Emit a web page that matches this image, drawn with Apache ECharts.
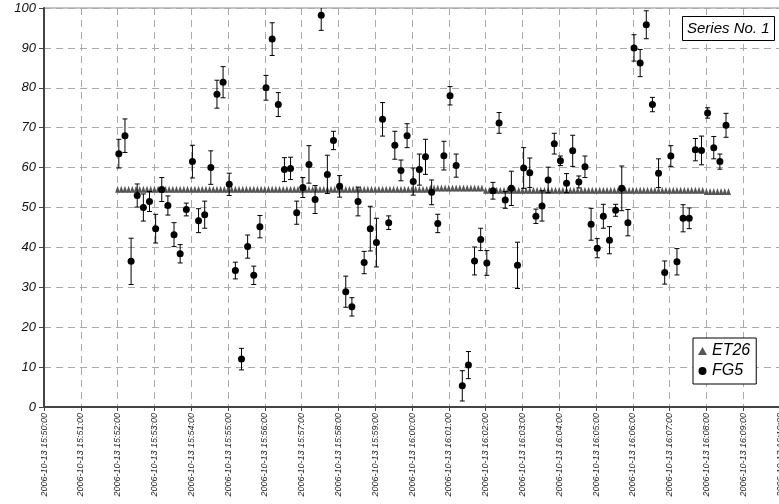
<!DOCTYPE html>
<html><head><meta charset="utf-8">
<script src="https://cdn.jsdelivr.net/npm/echarts@6/dist/echarts.min.js"></script>
<style>html,body{margin:0;padding:0;background:#fff}#c{width:779px;height:504px}</style>
</head><body><div id="c"></div>
<script>
const DATE = '2006-10-13';
const xStart = '15:50:00';
const xEnd = '16:10:00';
const xStepSec = 60;
const yMin = 0, yMax = 100, yStep = 10;
const titleText = 'Series No. 1';

const fg5Times = [
'15:52:02','15:52:12','15:52:22','15:52:32','15:52:42','15:52:52',
'15:53:02','15:53:12','15:53:22','15:53:32','15:53:42','15:53:52',
'15:54:02','15:54:12','15:54:22','15:54:32','15:54:42','15:54:52',
'15:55:02','15:55:12','15:55:22','15:55:32','15:55:42','15:55:52',
'15:56:02','15:56:12','15:56:22','15:56:32','15:56:42','15:56:52',
'15:57:02','15:57:12','15:57:22','15:57:32','15:57:42','15:57:52',
'15:58:02','15:58:12','15:58:22','15:58:32','15:58:42','15:58:52',
'15:59:02','15:59:12','15:59:22','15:59:32','15:59:42','15:59:52',
'16:00:02','16:00:12','16:00:22','16:00:32','16:00:42','16:00:52',
'16:01:02','16:01:12','16:01:22','16:01:32','16:01:42','16:01:52',
'16:02:02','16:02:12','16:02:22','16:02:32','16:02:42','16:02:52',
'16:03:02','16:03:12','16:03:22','16:03:32','16:03:42','16:03:52',
'16:04:02','16:04:12','16:04:22','16:04:32','16:04:42','16:04:52',
'16:05:02','16:05:12','16:05:22','16:05:32','16:05:42','16:05:52',
'16:06:02','16:06:12','16:06:22','16:06:32','16:06:42','16:06:52',
'16:07:02','16:07:12','16:07:22','16:07:32','16:07:42','16:07:52',
'16:08:02','16:08:12','16:08:22','16:08:32'];

const fg5Values = [
63.5,68.0,36.5,53.0,50.0,51.5,44.7,54.5,50.5,43.2,
38.4,49.5,61.5,46.7,48.2,60.0,78.4,81.4,55.8,34.2,
12.0,40.2,33.0,45.2,80.0,92.2,75.8,59.5,59.8,48.7,
55.0,60.8,52.0,98.2,58.3,66.8,55.3,28.9,25.1,51.5,
36.2,44.7,41.2,72.1,46.2,65.6,59.3,68.0,56.5,59.5,
62.7,53.8,46.0,63.0,78.0,60.5,5.3,10.5,36.6,42.0,
36.1,54.2,71.2,51.9,54.8,35.5,59.9,58.7,47.8,50.4,
56.9,66.0,61.7,56.1,64.2,56.4,60.2,45.8,39.8,47.8,
41.8,49.3,54.8,46.2,90.0,86.2,95.8,75.8,58.6,33.7,
62.9,36.4,47.3,47.3,64.5,64.3,73.7,65.0,61.5,70.6];

const fg5Errors = [
3.6,4.2,5.8,2.9,3.4,2.5,3.6,3.0,2.4,3.0,
2.3,1.6,4.1,3.0,3.4,4.2,3.5,3.9,2.8,2.1,
2.7,2.9,2.3,2.8,3.1,4.1,3.0,3.0,2.8,2.9,
2.5,4.7,3.5,3.8,4.8,2.3,2.7,3.9,2.3,3.6,
2.8,5.6,6.1,4.2,1.7,3.5,2.6,3.0,3.4,3.9,
4.4,3.1,2.3,3.6,2.3,2.9,3.8,3.4,3.5,2.8,
3.1,2.1,2.6,2.1,4.3,5.8,5.1,3.7,1.8,3.8,
3.2,2.6,1.2,2.4,3.9,1.5,2.7,4.0,2.4,3.0,
3.4,1.5,5.6,3.3,3.3,3.4,3.5,1.8,3.6,2.9,
2.6,3.3,3.4,2.6,2.8,3.6,1.3,2.8,1.9,3.0];

const et26Times = [
'15:52:00','15:52:06','15:52:12','15:52:18','15:52:24','15:52:30','15:52:36','15:52:42','15:52:48','15:52:54',
'15:53:00','15:53:06','15:53:12','15:53:18','15:53:24','15:53:30','15:53:36','15:53:42','15:53:48','15:53:54',
'15:54:00','15:54:06','15:54:12','15:54:18','15:54:24','15:54:30','15:54:36','15:54:42','15:54:48','15:54:54',
'15:55:00','15:55:06','15:55:12','15:55:18','15:55:24','15:55:30','15:55:36','15:55:42','15:55:48','15:55:54',
'15:56:00','15:56:06','15:56:12','15:56:18','15:56:24','15:56:30','15:56:36','15:56:42','15:56:48','15:56:54',
'15:57:00','15:57:06','15:57:12','15:57:18','15:57:24','15:57:30','15:57:36','15:57:42','15:57:48','15:57:54',
'15:58:00','15:58:06','15:58:12','15:58:18','15:58:24','15:58:30','15:58:36','15:58:42','15:58:48','15:58:54',
'15:59:00','15:59:06','15:59:12','15:59:18','15:59:24','15:59:30','15:59:36','15:59:42','15:59:48','15:59:54',
'16:00:00','16:00:06','16:00:12','16:00:18','16:00:24','16:00:30','16:00:36','16:00:42','16:00:48','16:00:54',
'16:01:00','16:01:06','16:01:12','16:01:18','16:01:24','16:01:30','16:01:36','16:01:42','16:01:48','16:01:54',
'16:02:00','16:02:06','16:02:12','16:02:18','16:02:24','16:02:30','16:02:36','16:02:42','16:02:48','16:02:54',
'16:03:00','16:03:06','16:03:12','16:03:18','16:03:24','16:03:30','16:03:36','16:03:42','16:03:48','16:03:54',
'16:04:00','16:04:06','16:04:12','16:04:18','16:04:24','16:04:30','16:04:36','16:04:42','16:04:48','16:04:54',
'16:05:00','16:05:06','16:05:12','16:05:18','16:05:24','16:05:30','16:05:36','16:05:42','16:05:48','16:05:54',
'16:06:00','16:06:06','16:06:12','16:06:18','16:06:24','16:06:30','16:06:36','16:06:42','16:06:48','16:06:54',
'16:07:00','16:07:06','16:07:12','16:07:18','16:07:24','16:07:30','16:07:36','16:07:42','16:07:48','16:07:54',
'16:08:00','16:08:06','16:08:12','16:08:18','16:08:24','16:08:30','16:08:36'];

const et26Values = [
54.6,54.6,54.6,54.6,54.6,54.6,54.6,54.6,54.6,54.6,
54.6,54.6,54.6,54.6,54.6,54.6,54.6,54.6,54.6,54.6,
54.6,54.6,54.6,54.6,54.6,54.6,54.6,54.6,54.6,54.6,
54.6,54.6,54.6,54.6,54.6,54.6,54.6,54.6,54.6,54.6,
54.6,54.6,54.6,54.6,54.6,54.6,54.6,54.6,54.6,54.6,
54.6,54.6,54.6,54.6,54.6,54.6,54.6,54.6,54.6,54.6,
54.6,54.6,54.6,54.6,54.6,54.6,54.6,54.6,54.6,54.6,
54.6,54.6,54.6,54.6,54.6,54.6,54.6,54.6,54.6,54.6,
54.6,54.6,54.6,54.6,54.6,54.9,54.9,54.9,54.9,54.9,
54.9,54.9,54.9,54.9,54.9,54.9,54.9,54.9,54.9,54.9,
54.3,54.3,54.3,54.3,54.3,54.3,54.3,54.3,54.3,54.3,
54.3,54.3,54.3,54.3,54.3,54.3,54.3,54.3,54.3,54.3,
54.3,54.3,54.3,54.3,54.3,54.3,54.3,54.3,54.3,54.3,
54.3,54.3,54.3,54.3,54.3,54.3,54.3,54.3,54.3,54.3,
54.3,54.3,54.3,54.3,54.3,54.3,54.3,54.3,54.3,54.3,
54.3,54.3,54.3,54.3,54.3,54.3,54.3,54.3,54.3,54.3,
54.0,54.0,54.0,54.0,54.0,54.0,54.0];

function toSec(t){const p=t.split(':').map(Number);return p[0]*3600+p[1]*60+p[2];}
function pad(n){return (n<10?'0':'')+n;}
function fmt(s){const h=Math.floor(s/3600),m=Math.floor((s%3600)/60),sec=Math.round(s%60);return DATE+' '+pad(h)+':'+pad(m)+':'+pad(sec);}

const FONT = '"Liberation Sans", Arial, sans-serif';
const fg5Data = fg5Times.map((t,i)=>[toSec(t), fg5Values[i]]);
const fg5ErrData = fg5Times.map((t,i)=>[toSec(t), fg5Values[i], fg5Errors[i]]);
const et26Data = et26Times.map((t,i)=>[toSec(t), et26Values[i]]);

const chart = echarts.init(document.getElementById('c'));
chart.setOption({
  animation:false,
  backgroundColor:'#fff',
  title:{text:titleText,left:682,top:16,padding:[5,5,5,5],borderColor:'#000',borderWidth:1,backgroundColor:'#fff',
    textStyle:{fontFamily:FONT,fontSize:15,fontStyle:'italic',fontWeight:'normal',color:'#000'}},
  legend:{orient:'vertical',left:693,top:338,padding:[5,6,5,5],borderColor:'#000',borderWidth:1,backgroundColor:'#fff',
    itemGap:4,itemWidth:9,itemHeight:8,
    textStyle:{fontFamily:FONT,fontSize:16,fontStyle:'italic',color:'#000'},
    data:[{name:'ET26',icon:'triangle'},{name:'FG5',icon:'circle'}]},
  grid:{left:44,top:8,right:-1,bottom:97,show:true,borderColor:'#888',borderWidth:1,containLabel:false,outerBoundsMode:'none'},
  xAxis:{type:'value',min:toSec(xStart),max:toSec(xEnd),interval:xStepSec,
    axisLine:{lineStyle:{color:'#444',width:2}},
    axisTick:{length:4,lineStyle:{color:'#444'}},
    axisLabel:{rotate:90,fontSize:9,fontStyle:'italic',color:'#222',fontFamily:FONT,margin:6,formatter:fmt,showMaxLabel:true,showMinLabel:true,hideOverlap:false},
    splitLine:{show:true,lineStyle:{type:[7,5],color:'#aaa',width:1}}},
  yAxis:{type:'value',min:yMin,max:yMax,interval:yStep,
    axisLine:{show:true,lineStyle:{color:'#444',width:2}},
    axisTick:{show:true,length:5,lineStyle:{color:'#444'}},
    axisLabel:{fontSize:13,fontStyle:'italic',color:'#111',fontFamily:FONT,margin:8},
    splitLine:{show:true,lineStyle:{type:[7,5],color:'#aaa',width:1}}},
  series:[
    {name:'ET26',type:'scatter',symbol:'triangle',symbolSize:[5,7],itemStyle:{color:'#555',opacity:1},data:et26Data,z:3},
    {name:'FG5err',type:'custom',z:4,clip:true,encode:{x:0,y:1},data:fg5ErrData,
      renderItem:function(params,api){
        const x=api.value(0),y=api.value(1),e=api.value(2);
        const a=api.coord([x,y+e]),b=api.coord([x,y-e]);
        const w=2.5,st={stroke:'#000',lineWidth:1};
        return {type:'group',children:[
          {type:'line',shape:{x1:a[0],y1:a[1],x2:b[0],y2:b[1]},style:st},
          {type:'line',shape:{x1:a[0]-w,y1:a[1],x2:a[0]+w,y2:a[1]},style:st},
          {type:'line',shape:{x1:b[0]-w,y1:b[1],x2:b[0]+w,y2:b[1]},style:st}
        ]};
      }},
    {name:'FG5',type:'scatter',symbol:'circle',symbolSize:7,itemStyle:{color:'#000',opacity:1},data:fg5Data,z:5}
  ]
});
</script></body></html>
